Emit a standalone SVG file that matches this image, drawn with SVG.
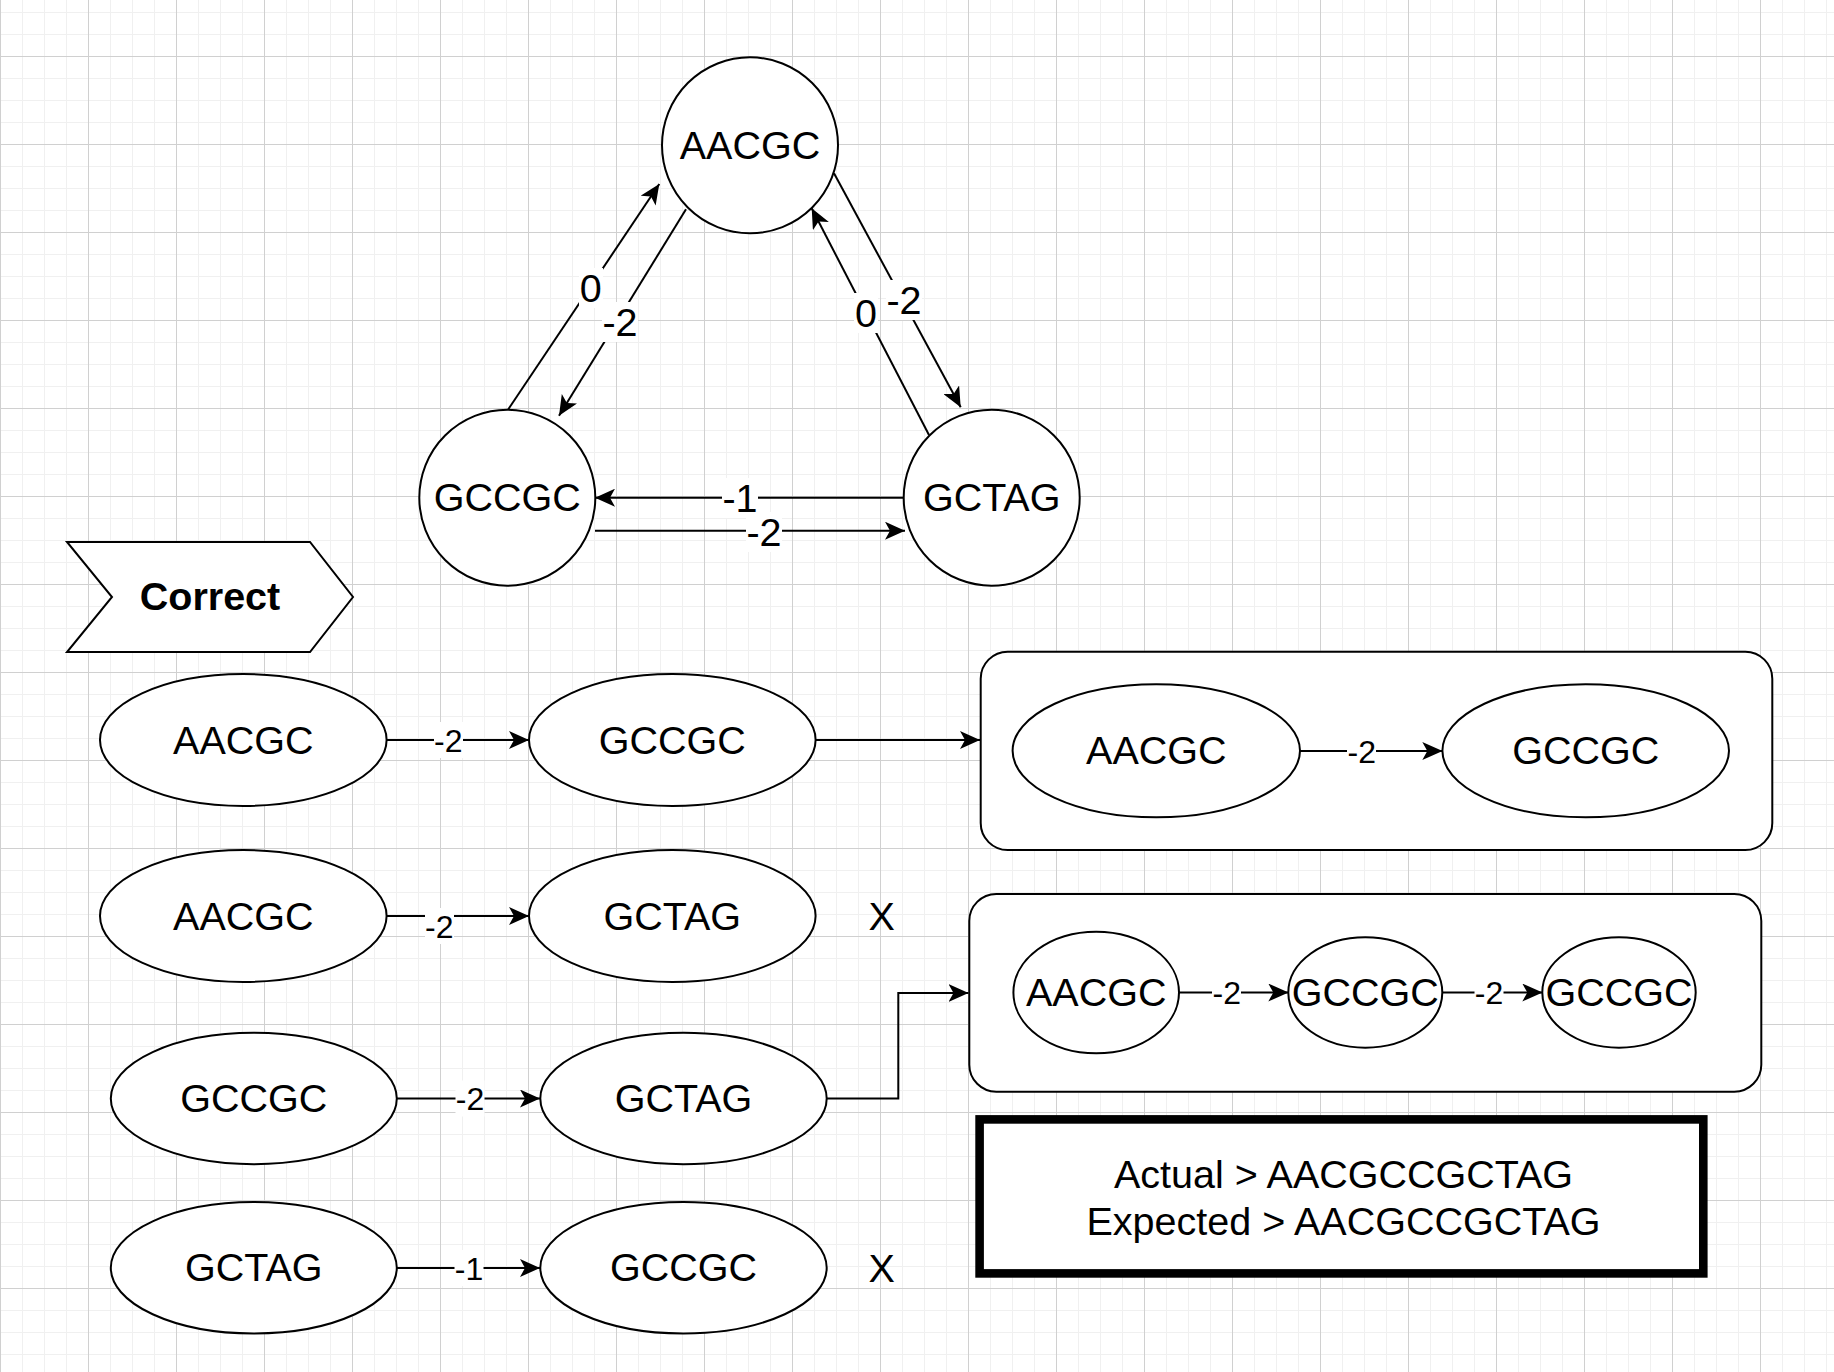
<svg xmlns="http://www.w3.org/2000/svg" width="1834" height="1372" viewBox="0 0 1834 1372">
  <defs>
    <pattern id="grid" x="0" y="56" width="88" height="88" patternUnits="userSpaceOnUse">
      <rect x="22" y="0" width="1" height="88" fill="#f0f0f0"/>
      <rect x="44" y="0" width="1" height="88" fill="#f0f0f0"/>
      <rect x="66" y="0" width="1" height="88" fill="#f0f0f0"/>
      <rect x="0" y="22" width="88" height="1" fill="#f0f0f0"/>
      <rect x="0" y="44" width="88" height="1" fill="#f0f0f0"/>
      <rect x="0" y="66" width="88" height="1" fill="#f0f0f0"/>
      <rect x="0" y="0" width="1" height="88" fill="#d0d0d0"/>
      <rect x="0" y="0" width="88" height="1" fill="#d0d0d0"/>
    </pattern>
    <marker id="ah" viewBox="0 0 20 18" refX="20" refY="9" markerWidth="20" markerHeight="18" orient="auto" markerUnits="userSpaceOnUse">
      <path d="M20,9 L0,0 L5,9 L0,18 Z" fill="#000"/>
    </marker>
    <style>
      .shape { fill: #fff; stroke: #000; stroke-width: 2; }
      .edge { fill: none; stroke: #000; stroke-width: 2; }
      .arr { marker-end: url(#ah); }
      .t { font-family: "Liberation Sans", Arial, Helvetica, sans-serif; font-size: 39.5px; text-anchor: middle; fill: #000; }
      .b { font-weight: bold; }
      .s { font-size: 32px; }
      .lbg { fill: #fff; }
    </style>
  </defs>

  <rect x="0" y="0" width="1834" height="1372" fill="#fff"/>
  <rect x="0" y="0" width="1834" height="1372" fill="url(#grid)"/>

  <!-- connectors -->
  <g id="connectors">
    <!-- top graph -->
    <line class="edge arr" x1="508.3" y1="409.3" x2="659.3" y2="184"/>
    <line class="edge arr" x1="686" y1="209.3" x2="559" y2="415.7"/>
    <line class="edge arr" x1="834" y1="173.3" x2="960.7" y2="407.3"/>
    <line class="edge arr" x1="929" y1="435" x2="811.7" y2="208.3"/>
    <line class="edge arr" x1="903.3" y1="497.7" x2="595" y2="497.7"/>
    <line class="edge arr" x1="595" y1="530.7" x2="905" y2="530.7"/>
    <!-- rows -->
    <line class="edge arr" x1="386.7" y1="740" x2="529" y2="740"/>
    <line class="edge arr" x1="815.5" y1="740" x2="980" y2="740"/>
    <line class="edge arr" x1="386.7" y1="916" x2="529" y2="916"/>
    <line class="edge arr" x1="396.8" y1="1098.5" x2="540" y2="1098.5"/>
    <polyline class="edge arr" points="826.7,1098.5 898.3,1098.5 898.3,993 968.5,993"/>
    <line class="edge arr" x1="396.8" y1="1268" x2="540" y2="1268"/>
  </g>

  <!-- containers -->
  <g id="container1">
    <rect class="shape" x="980.7" y="651.7" width="791.6" height="198.3" rx="27" ry="27"/>
  </g>
  <g id="container2">
    <rect class="shape" x="969.3" y="894" width="792" height="197.7" rx="27" ry="27"/>
  </g>
  <g id="connectors-inner">
    <line class="edge arr" x1="1300" y1="751" x2="1442.3" y2="751"/>
    <line class="edge arr" x1="1179" y1="992.5" x2="1288.3" y2="992.5"/>
    <line class="edge arr" x1="1442.3" y1="992.5" x2="1542.3" y2="992.5"/>
  </g>

  <!-- edge labels -->
  <g id="edge-labels">
    <rect class="lbg" x="579" y="268" width="24" height="40"/>
    <text class="t" x="590.7" y="302.3">0</text>
    <rect class="lbg" x="602" y="302" width="36" height="40"/>
    <text class="t" x="620" y="336">-2</text>
    <rect class="lbg" x="886" y="280" width="36" height="40"/>
    <text class="t" x="904" y="314">-2</text>
    <rect class="lbg" x="854" y="293" width="24" height="40"/>
    <text class="t" x="866" y="327">0</text>
    <rect class="lbg" x="722" y="478" width="36" height="40"/>
    <text class="t" x="740" y="511.7">-1</text>
    <rect class="lbg" x="746" y="512" width="36" height="40"/>
    <text class="t" x="764" y="546">-2</text>

    <rect class="lbg" x="434" y="722" width="29" height="36"/>
    <text class="t s" x="448.3" y="751.5">-2</text>
    <rect class="lbg" x="425" y="908" width="29" height="36"/>
    <text class="t s" x="439.3" y="937.5">-2</text>
    <rect class="lbg" x="455.5" y="1080.5" width="29" height="36"/>
    <text class="t s" x="470" y="1110">-2</text>
    <rect class="lbg" x="454.5" y="1250" width="29" height="36"/>
    <text class="t s" x="469" y="1279.5">-1</text>
    <rect class="lbg" x="1347" y="733" width="29" height="36"/>
    <text class="t s" x="1361.7" y="762.5">-2</text>
    <rect class="lbg" x="1212" y="974.5" width="29" height="36"/>
    <text class="t s" x="1226.7" y="1004">-2</text>
    <rect class="lbg" x="1474.5" y="974.5" width="29" height="36"/>
    <text class="t s" x="1489" y="1004">-2</text>
  </g>

  <!-- top graph nodes -->
  <g id="top-aacgc">
    <circle class="shape" cx="750" cy="145.3" r="88"/>
    <text class="t" x="750" y="159">AACGC</text>
  </g>
  <g id="top-gccgc">
    <circle class="shape" cx="507.3" cy="497.7" r="88"/>
    <text class="t" x="507.3" y="511.4">GCCGC</text>
  </g>
  <g id="top-gctag">
    <circle class="shape" cx="991.7" cy="497.7" r="88"/>
    <text class="t" x="991.7" y="511.4">GCTAG</text>
  </g>

  <!-- Correct banner -->
  <g id="correct">
    <polygon class="shape" points="67,542 310,542 353,597 310,652 67,652 112,597"/>
    <text class="t b" x="210" y="609.8">Correct</text>
  </g>

  <!-- row 1 -->
  <g id="r1-aacgc">
    <ellipse class="shape" cx="243.3" cy="740" rx="143.3" ry="66"/>
    <text class="t" x="243.3" y="753.5">AACGC</text>
  </g>
  <g id="r1-gccgc">
    <ellipse class="shape" cx="672.3" cy="740" rx="143.3" ry="66"/>
    <text class="t" x="672.3" y="753.5">GCCGC</text>
  </g>

  <!-- row 2 -->
  <g id="r2-aacgc">
    <ellipse class="shape" cx="243.3" cy="916" rx="143.3" ry="66"/>
    <text class="t" x="243.3" y="929.5">AACGC</text>
  </g>
  <g id="r2-gctag">
    <ellipse class="shape" cx="672.3" cy="916" rx="143.3" ry="66"/>
    <text class="t" x="672.3" y="929.5">GCTAG</text>
  </g>
  <g id="r2-x">
    <text class="t" x="881.7" y="929.8">X</text>
  </g>

  <!-- row 3 -->
  <g id="r3-gccgc">
    <ellipse class="shape" cx="253.8" cy="1098.5" rx="143" ry="65.7"/>
    <text class="t" x="253.8" y="1112">GCCGC</text>
  </g>
  <g id="r3-gctag">
    <ellipse class="shape" cx="683.5" cy="1098.5" rx="143.2" ry="65.7"/>
    <text class="t" x="683.5" y="1112">GCTAG</text>
  </g>

  <!-- row 4 -->
  <g id="r4-gctag">
    <ellipse class="shape" cx="253.8" cy="1267.8" rx="143" ry="65.7"/>
    <text class="t" x="253.8" y="1281.3">GCTAG</text>
  </g>
  <g id="r4-gccgc">
    <ellipse class="shape" cx="683.5" cy="1267.8" rx="143.2" ry="65.7"/>
    <text class="t" x="683.5" y="1281.3">GCCGC</text>
  </g>
  <g id="r4-x">
    <text class="t" x="881.7" y="1281.5">X</text>
  </g>

  <!-- container 1 nodes -->
  <g id="c1-aacgc">
    <ellipse class="shape" cx="1156.3" cy="750.8" rx="143.7" ry="66.5"/>
    <text class="t" x="1156.3" y="764.3">AACGC</text>
  </g>
  <g id="c1-gccgc">
    <ellipse class="shape" cx="1585.7" cy="750.8" rx="143.3" ry="66.5"/>
    <text class="t" x="1585.7" y="764.3">GCCGC</text>
  </g>

  <!-- container 2 nodes -->
  <g id="c2-aacgc">
    <ellipse class="shape" cx="1096.2" cy="992.5" rx="82.8" ry="60.8"/>
    <text class="t" x="1096.2" y="1006.2">AACGC</text>
  </g>
  <g id="c2-gccgc1">
    <ellipse class="shape" cx="1365.3" cy="992.5" rx="77" ry="55.2"/>
    <text class="t" x="1365.3" y="1006.2">GCCGC</text>
  </g>
  <g id="c2-gccgc2">
    <ellipse class="shape" cx="1619" cy="992.5" rx="76.7" ry="55.2"/>
    <text class="t" x="1619" y="1006.2">GCCGC</text>
  </g>

  <!-- result box -->
  <g id="result">
    <rect x="979.6" y="1119.4" width="723.7" height="154" fill="#fff" stroke="#000" stroke-width="8.6"/>
    <text class="t" x="1343.5" y="1188">Actual &gt; AACGCCGCTAG</text>
    <text class="t" x="1343.5" y="1234.6">Expected &gt; AACGCCGCTAG</text>
  </g>
</svg>
